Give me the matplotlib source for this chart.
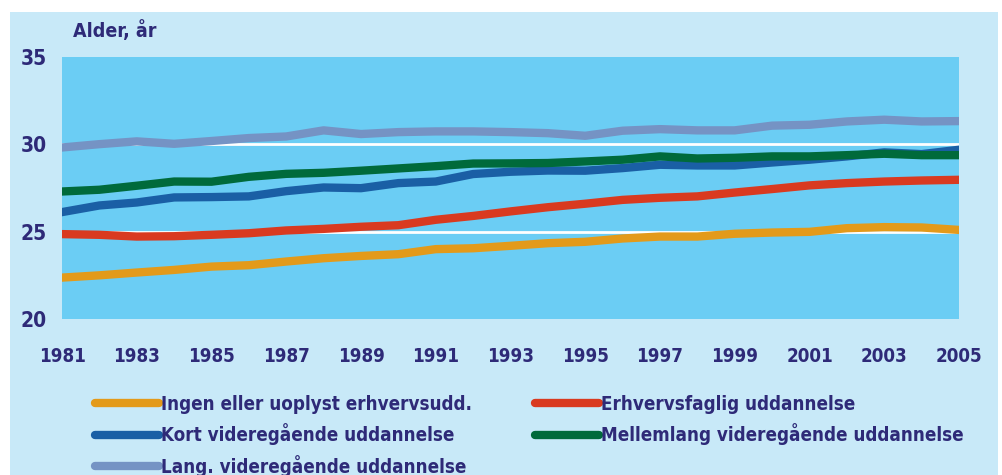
import matplotlib.pyplot as plt
from matplotlib.patches import Rectangle
from matplotlib.lines import Line2D

# --- data ---
years = list(range(1981, 2006))

ingen = [22.37, 22.50, 22.66, 22.81, 23.00, 23.08, 23.29, 23.48, 23.61, 23.71,
         24.00, 24.05, 24.19, 24.34, 24.42, 24.61, 24.72, 24.72, 24.88, 24.95,
         24.99, 25.20, 25.26, 25.24, 25.10]
erhverv = [24.86, 24.82, 24.72, 24.74, 24.82, 24.91, 25.07, 25.16, 25.28, 25.37,
           25.68, 25.90, 26.16, 26.40, 26.60, 26.82, 26.94, 27.02, 27.24, 27.44,
           27.65, 27.78, 27.87, 27.93, 27.97]
kort = [26.12, 26.50, 26.67, 26.96, 26.98, 27.02, 27.32, 27.53, 27.49, 27.78,
        27.87, 28.30, 28.43, 28.50, 28.49, 28.64, 28.83, 28.79, 28.79, 28.96,
        29.12, 29.31, 29.54, 29.44, 29.69]
mellem = [27.30, 27.40, 27.63, 27.87, 27.86, 28.14, 28.31, 28.37, 28.49, 28.62,
          28.75, 28.90, 28.91, 28.93, 29.02, 29.12, 29.31, 29.19, 29.23, 29.31,
          29.31, 29.38, 29.46, 29.38, 29.38]
lang = [29.82, 30.01, 30.17, 30.03, 30.19, 30.36, 30.45, 30.80, 30.59, 30.70,
        30.74, 30.74, 30.70, 30.64, 30.49, 30.78, 30.87, 30.80, 30.80, 31.07,
        31.12, 31.31, 31.41, 31.31, 31.33]

labels = ["Ingen eller uoplyst erhvervsudd.", "Erhvervsfaglig uddannelse",
          "Kort videregående uddannelse", "Mellemlang videregående uddannelse",
          "Lang. videregående uddannelse"]
series = [ingen, erhverv, kort, mellem, lang]
colors = ["#e39a1a", "#d93a20", "#1a5fa5", "#006a3b", "#7593c4"]

x_ticks = list(range(1981, 2006, 2))
y_ticks = [20, 25, 30, 35]

TXT = "#2e2a78"
plt.rcParams['font.family'] = ["DejaVu Sans"]
plt.rcParams['font.stretch'] = 'condensed'
plt.rcParams['font.weight'] = 'bold'

fig = plt.figure(figsize=(10.02, 4.75), dpi=100)
fig.patch.set_facecolor("white")
fig.patches.append(Rectangle((10 / 1002, 0), 988 / 1002, 1 - 12 / 475,
                             transform=fig.transFigure, facecolor="#c8e9f8",
                             edgecolor="none", zorder=-5))

ax = fig.add_axes([62 / 1002, 1 - 319 / 475, 897 / 1002, 262 / 475])
ax.set_facecolor("#6bcdf4")
for s in ax.spines.values():
    s.set_visible(False)

for yv in [25, 30]:
    ax.axhline(yv, color="white", lw=2, zorder=1)

for lab, vals, col in zip(labels, series, colors):
    ax.plot(years, vals, color=col, lw=6, zorder=3)

ax.set_xlim(1981, 2005)
ax.set_ylim(20, 35)
ax.set_xticks(x_ticks)
ax.set_yticks(y_ticks)
ax.tick_params(length=0, colors=TXT)
ax.tick_params(axis='y', labelsize=15, pad=11)
ax.tick_params(axis='x', labelsize=13.5, pad=20)

fig.text(73 / 1002, 1 - 31 / 475, "Alder, år", color=TXT, fontsize=14,
         fontweight='bold', va='center', ha='left')

# legend: column-wise order
order = [0, 2, 4, 1, 3]
handles = [Line2D([], [], color=colors[i], lw=6, solid_capstyle='round') for i in order]
leg = fig.legend(handles, [labels[i] for i in order], ncol=2,
                 loc='upper left', bbox_to_anchor=(95 / 1002, 1 - 395 / 475),
                 frameon=False, fontsize=13.5, handlelength=3.4,
                 handletextpad=0.1, labelspacing=0.5, columnspacing=3.4,
                 borderpad=0, borderaxespad=0)
for t in leg.get_texts():
    t.set_color(TXT)

fig.savefig("out.png", dpi=100)
